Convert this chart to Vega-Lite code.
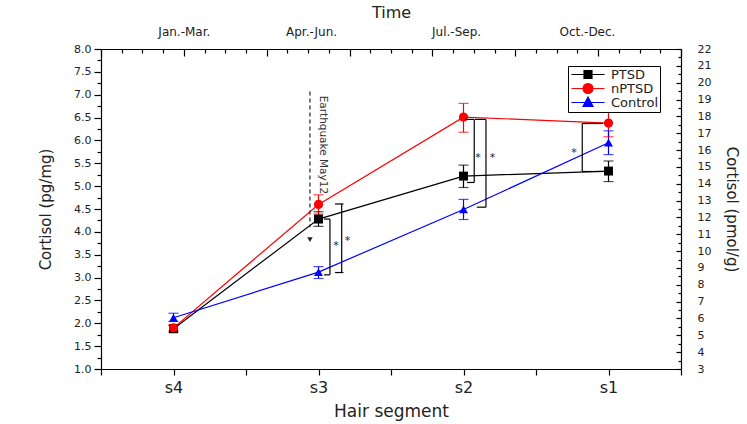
{
  "$schema": "https://vega.github.io/schema/vega-lite/v6.json",
  "width": 580,
  "height": 320,
  "autosize": {"type": "none"},
  "padding": {"left": 101, "top": 49, "right": 66, "bottom": 55},
  "background": "white",
  "config": {
    "font": "DejaVu Sans",
    "view": {"stroke": null},
    "axis": {
      "labelFont": "DejaVu Sans",
      "titleFont": "DejaVu Sans",
      "domainColor": "#000000",
      "domainWidth": 1.2,
      "tickColor": "#000000",
      "tickWidth": 1.2,
      "labelColor": "#222222",
      "titleColor": "#222222",
      "titleFontWeight": "normal",
      "grid": false,
      "labelFlush": false,
      "labelOverlap": false,
      "labelBound": false
    }
  },
  "datasets": {
    "series": [
      {"group": "PTSD", "segment": "s4", "seg_index": 1, "mean": 1.88, "lo": 1.81, "hi": 1.95},
      {"group": "PTSD", "segment": "s3", "seg_index": 2, "mean": 4.28, "lo": 4.12, "hi": 4.44},
      {"group": "PTSD", "segment": "s2", "seg_index": 3, "mean": 5.22, "lo": 4.97, "hi": 5.46},
      {"group": "PTSD", "segment": "s1", "seg_index": 4, "mean": 5.33, "lo": 5.10, "hi": 5.55},
      {"group": "nPTSD", "segment": "s4", "seg_index": 1, "mean": 1.90, "lo": 1.83, "hi": 1.97},
      {"group": "nPTSD", "segment": "s3", "seg_index": 2, "mean": 4.60, "lo": 4.39, "hi": 4.81},
      {"group": "nPTSD", "segment": "s2", "seg_index": 3, "mean": 6.51, "lo": 6.18, "hi": 6.81},
      {"group": "nPTSD", "segment": "s1", "seg_index": 4, "mean": 6.38, "lo": 6.08, "hi": 6.67},
      {"group": "Control", "segment": "s4", "seg_index": 1, "mean": 2.12, "lo": 2.04, "hi": 2.22},
      {"group": "Control", "segment": "s3", "seg_index": 2, "mean": 3.12, "lo": 2.98, "hi": 3.24},
      {"group": "Control", "segment": "s2", "seg_index": 3, "mean": 4.49, "lo": 4.27, "hi": 4.71},
      {"group": "Control", "segment": "s1", "seg_index": 4, "mean": 5.95, "lo": 5.69, "hi": 6.21}
    ],
    "brackets": [
      {"bx": 2.079, "bx2": 2.079, "by": 4.28, "by2": 3.06},
      {"bx": 2.038, "bx2": 2.079, "by": 4.28, "by2": 4.28},
      {"bx": 2.038, "bx2": 2.079, "by": 3.06, "by2": 3.06},
      {"bx": 2.16, "bx2": 2.16, "by": 4.61, "by2": 3.11},
      {"bx": 2.114, "bx2": 2.172, "by": 4.61, "by2": 4.61},
      {"bx": 2.114, "bx2": 2.172, "by": 3.11, "by2": 3.11},
      {"bx": 3.074, "bx2": 3.074, "by": 6.46, "by2": 5.08},
      {"bx": 3.01, "bx2": 3.074, "by": 6.46, "by2": 6.46},
      {"bx": 3.024, "bx2": 3.074, "by": 5.08, "by2": 5.08},
      {"bx": 3.155, "bx2": 3.155, "by": 6.46, "by2": 4.54},
      {"bx": 3.079, "bx2": 3.155, "by": 6.46, "by2": 6.46},
      {"bx": 3.092, "bx2": 3.155, "by": 4.54, "by2": 4.54},
      {"bx": 3.819, "bx2": 3.819, "by": 6.37, "by2": 5.32},
      {"bx": 3.819, "bx2": 3.962, "by": 6.37, "by2": 6.37},
      {"bx": 3.819, "bx2": 3.962, "by": 5.32, "by2": 5.32}
    ],
    "stars": [
      {"sx": 2.12, "sy": 3.75, "label": "*"},
      {"sx": 2.2, "sy": 3.86, "label": "*"},
      {"sx": 3.1, "sy": 5.68, "label": "*"},
      {"sx": 3.2, "sy": 5.68, "label": "*"},
      {"sx": 3.762, "sy": 5.79, "label": "*"}
    ],
    "quake": [
      {"qx": 1.941, "qtop": 7.07, "qbottom": 4.1, "arrow_y": 3.83, "text_x": 2.03, "text_y": 6.98, "label": "Earthquake May12"}
    ]
  },
  "layer": [
    {
      "layer": [
        {
          "data": {"name": "series"},
          "mark": {"type": "line", "strokeWidth": 1.2},
          "encoding": {
            "x": {
              "field": "seg_index",
              "type": "quantitative",
              "scale": {"domain": [0.5, 4.5], "nice": false, "zero": false},
              "axis": {
                "orient": "bottom",
                "values": [0.5, 1, 1.5, 2, 2.5, 3, 3.5, 4, 4.5],
                "labelExpr": "datum.value === 1 ? 's4' : datum.value === 2 ? 's3' : datum.value === 3 ? 's2' : datum.value === 4 ? 's1' : ''",
                "labelOverlap": false,
                "tickSize": 6,
                "labelPadding": 4,
                "labelFontSize": 16,
                "title": "Hair segment",
                "titleFontSize": 17,
                "titlePadding": 8
              }
            },
            "y": {
              "field": "mean",
              "type": "quantitative",
              "scale": {"domain": [1, 8], "nice": false, "zero": false},
              "axis": null
            },
            "color": {
              "field": "group",
              "type": "nominal",
              "scale": {"domain": ["Control", "PTSD", "nPTSD"], "range": ["#0000ff", "#000000", "#ff0000"]},
              "legend": null
            }
          }
        },
        {
          "data": {"name": "series"},
          "mark": {"type": "rule", "strokeWidth": 1.2},
          "encoding": {
            "x": {"field": "seg_index", "type": "quantitative"},
            "y": {"field": "lo", "type": "quantitative", "axis": null},
            "y2": {"field": "hi"},
            "color": {"field": "group", "type": "nominal", "legend": null}
          }
        },
        {
          "data": {"name": "series"},
          "mark": {"type": "tick", "orient": "horizontal", "size": 10, "thickness": 1.2},
          "encoding": {
            "x": {"field": "seg_index", "type": "quantitative"},
            "y": {"field": "lo", "type": "quantitative", "axis": null},
            "color": {"field": "group", "type": "nominal", "legend": null}
          }
        },
        {
          "data": {"name": "series"},
          "mark": {"type": "tick", "orient": "horizontal", "size": 10, "thickness": 1.2},
          "encoding": {
            "x": {"field": "seg_index", "type": "quantitative"},
            "y": {"field": "hi", "type": "quantitative", "axis": null},
            "color": {"field": "group", "type": "nominal", "legend": null}
          }
        },
        {
          "data": {"name": "series"},
          "transform": [{"filter": "datum.group === 'PTSD'"}],
          "mark": {"type": "point", "shape": "square", "filled": true, "opacity": 1, "size": 80, "color": "#000000"},
          "encoding": {
            "x": {"field": "seg_index", "type": "quantitative"},
            "y": {"field": "mean", "type": "quantitative", "axis": null}
          }
        },
        {
          "data": {"name": "series"},
          "transform": [{"filter": "datum.group === 'nPTSD'"}],
          "mark": {"type": "point", "shape": "circle", "filled": true, "opacity": 1, "size": 85, "color": "#ff0000"},
          "encoding": {
            "x": {"field": "seg_index", "type": "quantitative"},
            "y": {"field": "mean", "type": "quantitative", "axis": null}
          }
        },
        {
          "data": {"name": "series"},
          "transform": [{"filter": "datum.group === 'Control'"}],
          "mark": {"type": "point", "shape": "triangle-up", "filled": true, "opacity": 1, "size": 80, "color": "#0000ff"},
          "encoding": {
            "x": {"field": "seg_index", "type": "quantitative"},
            "y": {"field": "mean", "type": "quantitative", "axis": null}
          }
        },
        {
          "data": {"name": "series"},
          "mark": {"type": "point", "opacity": 0, "size": 100, "strokeWidth": 1.2},
          "encoding": {
            "x": {"field": "seg_index", "type": "quantitative"},
            "y": {"field": "mean", "type": "quantitative", "axis": null},
            "fill": {
              "field": "group",
              "type": "nominal",
              "scale": {"domain": ["PTSD", "nPTSD", "Control"], "range": ["#000000", "#ff0000", "#0000ff"]},
              "legend": {
                "title": null,
                "orient": "none",
                "legendX": 467,
                "legendY": 17,
                "strokeColor": "#000000",
                "fillColor": "#ffffff",
                "padding": 2,
                "rowPadding": -2,
                "symbolSize": 100,
                "symbolOpacity": 1,
                "symbolStrokeWidth": 1.2,
                "labelOffset": 28,
                "labelFontSize": 13,
                "labelColor": "#222222",
                "labelFont": "DejaVu Sans"
              }
            },
            "stroke": {
              "field": "group",
              "type": "nominal",
              "scale": {"domain": ["PTSD", "nPTSD", "Control"], "range": ["#000000", "#ff0000", "#0000ff"]},
              "legend": {
                "title": null,
                "orient": "none",
                "legendX": 467,
                "legendY": 17,
                "strokeColor": "#000000",
                "fillColor": "#ffffff",
                "padding": 2,
                "rowPadding": -2,
                "symbolSize": 100,
                "symbolOpacity": 1,
                "symbolStrokeWidth": 1.2,
                "labelOffset": 28,
                "labelFontSize": 13,
                "labelColor": "#222222",
                "labelFont": "DejaVu Sans"
              }
            },
            "shape": {
              "field": "group",
              "type": "nominal",
              "scale": {"domain": ["PTSD", "nPTSD", "Control"], "range": ["M-1,0H5.6M1.5,-0.8H3.1V0.8H1.5Z", "M-1,0H5.6M3.3,0A1,1,0,1,1,1.3,0A1,1,0,1,1,3.3,0Z", "M-1,0H5.6M2.3,-1.1L3.3,0.8L1.3,0.8Z"]},
              "legend": {
                "title": null,
                "orient": "none",
                "legendX": 467,
                "legendY": 17,
                "strokeColor": "#000000",
                "fillColor": "#ffffff",
                "padding": 2,
                "rowPadding": -2,
                "symbolSize": 100,
                "symbolOpacity": 1,
                "symbolStrokeWidth": 1.2,
                "labelOffset": 28,
                "labelFontSize": 13,
                "labelColor": "#222222",
                "labelFont": "DejaVu Sans"
              }
            }
          }
        },
        {
          "data": {"name": "brackets"},
          "mark": {"type": "rule", "color": "#000000", "strokeWidth": 1.2},
          "encoding": {
            "x": {"field": "bx", "type": "quantitative"},
            "x2": {"field": "bx2"},
            "y": {"field": "by", "type": "quantitative", "axis": null},
            "y2": {"field": "by2"}
          }
        },
        {
          "data": {"name": "stars"},
          "mark": {"type": "text", "fontSize": 11, "color": "#222222", "baseline": "middle", "dy": 3},
          "encoding": {
            "x": {"field": "sx", "type": "quantitative"},
            "y": {"field": "sy", "type": "quantitative", "axis": null},
            "text": {"field": "label"}
          }
        },
        {
          "data": {"name": "quake"},
          "mark": {"type": "rule", "color": "#222222", "strokeWidth": 1.2, "strokeDash": [4, 3]},
          "encoding": {
            "x": {"field": "qx", "type": "quantitative"},
            "y": {"field": "qtop", "type": "quantitative", "axis": null},
            "y2": {"field": "qbottom"}
          }
        },
        {
          "data": {"name": "quake"},
          "mark": {"type": "point", "shape": "triangle-down", "filled": true, "color": "#222222", "opacity": 1, "size": 30},
          "encoding": {
            "x": {"field": "qx", "type": "quantitative"},
            "y": {"field": "arrow_y", "type": "quantitative", "axis": null}
          }
        },
        {
          "data": {"name": "quake"},
          "mark": {"type": "text", "angle": 90, "align": "left", "baseline": "middle", "fontSize": 10.5, "color": "#333333"},
          "encoding": {
            "x": {"field": "text_x", "type": "quantitative"},
            "y": {"field": "text_y", "type": "quantitative", "axis": null},
            "text": {"field": "label"}
          }
        }
      ]
    },
    {
      "data": {"values": [{"lm": 1}, {"lm": 8}]},
      "mark": {"type": "rule", "opacity": 0},
      "encoding": {
        "y": {
          "field": "lm",
          "type": "quantitative",
          "scale": {"domain": [1, 8], "nice": false, "zero": false},
          "axis": {
            "orient": "left",
            "values": [1, 1.5, 2, 2.5, 3, 3.5, 4, 4.5, 5, 5.5, 6, 6.5, 7, 7.5, 8],
            "format": ".1f",
            "labelOverlap": false,
            "tickSize": 7,
            "labelPadding": 3,
            "labelFontSize": 11,
            "title": "Cortisol (pg/mg)",
            "titleFontSize": 15,
            "titlePadding": 20
          }
        }
      }
    },
    {
      "data": {"values": [{"m": 1}, {"m": 8}]},
      "mark": {"type": "rule", "opacity": 0},
      "encoding": {
        "y": {
          "field": "m",
          "type": "quantitative",
          "scale": {"domain": [1, 8], "nice": false, "zero": false},
          "axis": {
            "orient": "left",
            "values": [1.25, 1.75, 2.25, 2.75, 3.25, 3.75, 4.25, 4.75, 5.25, 5.75, 6.25, 6.75, 7.25, 7.75],
            "labels": false,
            "domain": false,
            "tickSize": 4,
            "title": null
          }
        }
      }
    },
    {
      "data": {"values": [{"pmol": 3}, {"pmol": 22}]},
      "mark": {"type": "rule", "opacity": 0},
      "encoding": {
        "y": {
          "field": "pmol",
          "type": "quantitative",
          "scale": {"domain": [3, 22], "nice": false, "zero": false},
          "axis": {
            "orient": "right",
            "values": [3, 4, 5, 6, 7, 8, 9, 10, 11, 12, 13, 14, 15, 16, 17, 18, 19, 20, 21, 22],
            "format": "d",
            "labelOverlap": false,
            "ticks": false,
            "labelPadding": 16,
            "labelFontSize": 11,
            "title": "Cortisol (pmol/g)",
            "titleFontSize": 15,
            "titlePadding": 13
          }
        }
      }
    },
    {
      "data": {"values": [{"pj": 3}, {"pj": 22}]},
      "mark": {"type": "rule", "opacity": 0},
      "encoding": {
        "y": {
          "field": "pj",
          "type": "quantitative",
          "scale": {"domain": [3, 22], "nice": false, "zero": false},
          "axis": {
            "orient": "right",
            "offset": -5,
            "values": [3, 4, 5, 6, 7, 8, 9, 10, 11, 12, 13, 14, 15, 16, 17, 18, 19, 20, 21, 22],
            "labels": false,
            "domain": false,
            "tickSize": 5,
            "title": null
          }
        }
      }
    },
    {
      "data": {"values": [{"pm": 3}, {"pm": 22}]},
      "mark": {"type": "rule", "opacity": 0},
      "encoding": {
        "y": {
          "field": "pm",
          "type": "quantitative",
          "scale": {"domain": [3, 22], "nice": false, "zero": false},
          "axis": {
            "orient": "right",
            "offset": -3,
            "values": [3.5, 4.5, 5.5, 6.5, 7.5, 8.5, 9.5, 10.5, 11.5, 12.5, 13.5, 14.5, 15.5, 16.5, 17.5, 18.5, 19.5, 20.5, 21.5],
            "labels": false,
            "domain": false,
            "tickSize": 3,
            "title": null
          }
        }
      }
    },
    {
      "data": {"values": [{"t": 0}, {"t": 28}]},
      "mark": {"type": "rule", "opacity": 0},
      "encoding": {
        "x": {
          "field": "t",
          "type": "quantitative",
          "scale": {"domain": [0, 28], "nice": false, "zero": false},
          "axis": {
            "orient": "top",
            "offset": -7,
            "values": [0, 4, 8, 12, 16, 20, 24, 28],
            "labels": false,
            "domain": false,
            "tickSize": 7,
            "title": null
          }
        }
      }
    },
    {
      "data": {"values": [{"tm": 0}, {"tm": 28}]},
      "mark": {"type": "rule", "opacity": 0},
      "encoding": {
        "x": {
          "field": "tm",
          "type": "quantitative",
          "scale": {"domain": [0, 28], "nice": false, "zero": false},
          "axis": {
            "orient": "top",
            "offset": -4,
            "values": [1, 2, 3, 5, 6, 7, 9, 10, 11, 13, 14, 15, 17, 18, 19, 21, 22, 23, 25, 26, 27],
            "labels": false,
            "domain": false,
            "tickSize": 4,
            "title": null
          }
        }
      }
    },
    {
      "data": {"values": [{"period": "Jan.-Mar.", "tp": 4}, {"period": "Oct.-Dec.", "tp": 23.46}]},
      "mark": {"type": "rule", "opacity": 0},
      "encoding": {
        "x": {
          "field": "tp",
          "type": "quantitative",
          "scale": {"domain": [0, 28], "nice": false, "zero": false},
          "axis": {
            "orient": "top",
            "values": [4, 10.14, 17.14, 23.46],
            "labelExpr": "datum.value === 4 ? 'Jan.-Mar.' : datum.value === 10.14 ? 'Apr.-Jun.' : datum.value === 17.14 ? 'Jul.-Sep.' : 'Oct.-Dec.'",
            "labelOverlap": false,
            "ticks": false,
            "labelPadding": 11,
            "labelFontSize": 12,
            "title": "Time",
            "titleFontSize": 16,
            "titlePadding": 5
          }
        }
      }
    }
  ],
  "resolve": {"scale": {"x": "independent", "y": "independent"}}
}
